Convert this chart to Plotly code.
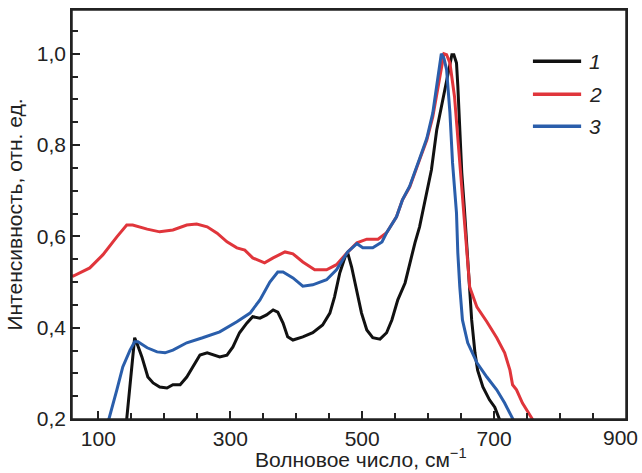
import plotly.graph_objects as go

# Series 1 (black)
black_x = [140, 155, 160, 166, 175, 183, 193, 204, 213, 224, 234, 243, 254, 265, 274, 284, 295, 304,
           314, 325, 334, 345, 355, 365, 372, 380, 387, 395, 410, 425, 440, 451, 458, 466, 474, 478,
           484, 492, 499, 507, 516, 527, 537, 545, 554, 565, 572, 580, 587, 598, 605, 613, 618, 622,
           628, 633, 636, 639, 643, 645, 648, 651, 655, 660, 664, 666, 671, 675, 683, 693, 701, 708, 712]
black_y = [0.156, 0.378, 0.36, 0.336, 0.292, 0.279, 0.27, 0.268, 0.275, 0.275, 0.292, 0.314, 0.34, 0.345,
           0.34, 0.336, 0.34, 0.358, 0.389, 0.41, 0.424, 0.421, 0.428, 0.439, 0.434, 0.41, 0.38, 0.373,
           0.38, 0.389, 0.406, 0.432, 0.467, 0.52, 0.555, 0.564, 0.533, 0.483, 0.432, 0.395, 0.378, 0.375,
           0.389, 0.417, 0.461, 0.498, 0.542, 0.586, 0.621, 0.702, 0.746, 0.833, 0.87, 0.899, 0.943, 0.98,
           0.998, 0.998, 0.98, 0.93, 0.84, 0.74, 0.66, 0.56, 0.47, 0.417, 0.345, 0.307, 0.27, 0.242, 0.226,
           0.2, 0.185]

# Series 2 (red)
red_x = [60, 62, 87, 107, 128, 143, 152, 174, 193, 213, 234, 249, 265, 280, 295, 310, 322, 334, 352, 365,
         383, 395, 410, 428, 446, 461, 477, 492, 507, 524, 537, 552, 561, 572, 587, 598, 607, 614, 620, 624,
         628, 633, 640, 645, 651, 655, 658, 663, 674, 689, 704, 716, 724, 728, 734, 743, 757, 762]
red_y = [0.515, 0.513, 0.531, 0.56, 0.599, 0.625, 0.625, 0.616, 0.61, 0.614, 0.625, 0.627, 0.621, 0.607,
         0.588, 0.575, 0.57, 0.553, 0.542, 0.553, 0.566, 0.562, 0.544, 0.527, 0.527, 0.538, 0.564, 0.586,
         0.594, 0.594, 0.608, 0.643, 0.68, 0.708, 0.768, 0.811, 0.862, 0.921, 0.971, 1.0, 0.998, 0.98,
         0.906, 0.818, 0.70, 0.63, 0.57, 0.489, 0.445, 0.413, 0.378, 0.345, 0.307, 0.275, 0.264, 0.235,
         0.202, 0.19]

# Series 3 (blue)
blue_x = [110, 116, 128, 137, 148, 155, 160, 174, 189, 201, 213, 234, 258, 284, 310, 330, 345, 360, 372,
          380, 395, 410, 425, 446, 461, 471, 478, 492, 501, 516, 530, 537, 552, 561, 572, 587, 598, 607,
          613, 617, 620, 624, 628, 633, 637, 643, 645, 648, 652, 660, 674, 689, 704, 716, 728, 732]
blue_y = [0.19, 0.2, 0.264, 0.314, 0.351, 0.369, 0.369, 0.356, 0.347, 0.345, 0.351, 0.367, 0.378, 0.391,
          0.413, 0.432, 0.461, 0.5, 0.522, 0.522, 0.509, 0.491, 0.494, 0.505, 0.527, 0.549, 0.566, 0.584,
          0.575, 0.575, 0.588, 0.608, 0.643, 0.68, 0.71, 0.77, 0.815, 0.87, 0.93, 0.975, 1.0, 0.99, 0.965,
          0.871, 0.761, 0.651, 0.564, 0.489, 0.417, 0.367, 0.323, 0.292, 0.264, 0.235, 0.2, 0.19]

series_names = ["1", "2", "3"]
colors = ["#111111", "#e0353b", "#2a5eab"]

x_tickvals = [100, 300, 500, 700]
x_last_tick = 900
y_tickvals = [0.2, 0.4, 0.6, 0.8, 1.0]

FONT = "Liberation Sans, Arial, sans-serif"
FS = 21

fig = go.Figure()
for name, xs, ys, c in zip(series_names, [black_x, red_x, blue_x], [black_y, red_y, blue_y], colors):
    fig.add_trace(go.Scatter(x=xs, y=ys, mode="lines", name=name, showlegend=False,
                             line=dict(color=c, width=3)))

# Manual legend (longer line samples than Plotly's built-in legend)
leg_y = [0.875, 0.794, 0.716]
for name, c, yy in zip(series_names, colors, leg_y):
    fig.add_shape(type="line", xref="paper", yref="paper", x0=0.832, x1=0.919, y0=yy, y1=yy,
                  line=dict(color=c, width=3.5))
    fig.add_annotation(xref="paper", yref="paper", x=0.93, y=yy, text=f"<i>{name}</i>",
                       showarrow=False, xanchor="left", yanchor="middle",
                       font=dict(family=FONT, size=FS, color="#222"))

# Frame around the plot area
fig.add_shape(type="rect", xref="paper", yref="paper", x0=0, x1=1, y0=0, y1=1,
              line=dict(color="#222", width=1.5), layer="above")

# Last x tick label (kept inside the page edge)
fig.add_annotation(xref="x", yref="paper", x=x_last_tick, y=0, text=str(x_last_tick),
                   showarrow=False, xanchor="right", yanchor="top", xshift=14, yshift=-5,
                   font=dict(family=FONT, size=FS, color="#222"))

# X axis title
fig.add_annotation(xref="paper", yref="paper", x=0.5, y=0, text="Волновое число, см<sup>−1</sup>",
                   showarrow=False, xanchor="center", yanchor="top", xshift=12, yshift=-24,
                   font=dict(family=FONT, size=FS, color="#222"))

axis_common = dict(showline=True, linecolor="#222", linewidth=1.5, mirror=True,
                   ticks="inside", ticklen=8, tickwidth=1.5, tickcolor="#222",
                   showgrid=False, zeroline=False, automargin=False,
                   tickfont=dict(family=FONT, size=FS, color="#222"))

fig.update_xaxes(range=[60, 900], tickmode="array", tickvals=x_tickvals,
                 ticktext=[str(v) for v in x_tickvals],
                 minor=dict(dtick=50, tick0=0, ticks="inside", ticklen=6, tickwidth=1.5,
                            tickcolor="#222", showgrid=False),
                 **axis_common)
fig.update_yaxes(range=[0.2, 1.096], tickmode="array", tickvals=y_tickvals,
                 ticktext=[f"{v:.1f}".replace(".", ",") for v in y_tickvals],
                 minor=dict(dtick=0.05, tick0=0.2, ticks="inside", ticklen=6, tickwidth=1.5,
                            tickcolor="#222", showgrid=False),
                 title=dict(text="Интенсивность, отн. ед.",
                            font=dict(family=FONT, size=FS, color="#222"), standoff=8),
                 **axis_common)

fig.update_layout(width=642, height=473, margin=dict(l=72, r=16, t=10, b=54),
                  paper_bgcolor="white", plot_bgcolor="white",
                  showlegend=False)

fig.write_html("out.html", config={"displayModeBar": False},
               post_script="document.body.style.margin='0px';")
